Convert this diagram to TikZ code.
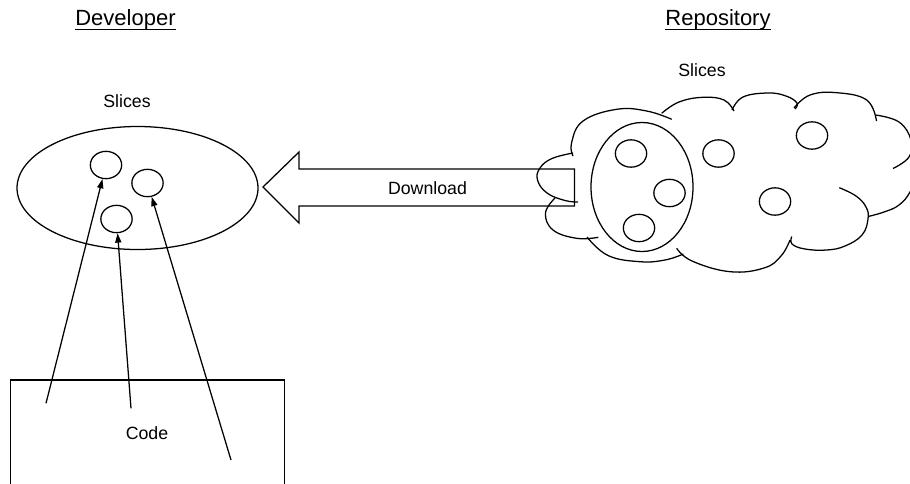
\documentclass[tikz,border=0pt]{standalone}
\usepackage{fontspec}
\setmainfont{Liberation Sans}
\usetikzlibrary{shapes.geometric,arrows.meta}
\tikzset{
  ln/.style={line width=0.95pt, black},
  slice/.style={ln, draw, ellipse, inner sep=0pt, minimum width=23.5pt, minimum height=20.5pt},
  bigell/.style={ln, draw, ellipse, inner sep=0pt},
  lbl/.style={inner sep=0pt, anchor=base, font=\fontsize{13.3}{16}\selectfont},
  head/.style={inner sep=0pt, anchor=base, font=\fontsize{16.5}{20}\selectfont},
  conn/.style={ln, -{Triangle[length=7pt,width=4.6pt]}},
  bump/.style={ln, smooth, tension=0.7}
}
\begin{document}
\begin{tikzpicture}[x=0.75pt, y=-0.75pt]
\useasboundingbox (0,0) rectangle (910,483);

% headings
\node[head] (dev) at (125.5,25) {Developer};
\node[head] (repo) at (718,25) {Repository};
\draw[line width=1pt] ([yshift=-3.4pt]dev.base west) -- ([yshift=-3.4pt]dev.base east);
\draw[line width=1pt] ([yshift=-3.4pt]repo.base west) -- ([yshift=-3.4pt]repo.base east);

% developer side
\node[lbl] (sl1) at (127,107.7) {Slices};
\node[bigell, minimum width=180.75pt, minimum height=92.25pt] (dell) at (137.5,188) {};
\node[slice] (s1) at (106,165) {};
\node[slice] (s2) at (147.5,183) {};
\node[slice] (s3) at (116.5,219) {};

\node[ln, draw, rectangle, inner sep=0pt, minimum width=205.5pt, minimum height=79.5pt] (code) at (147.4,433) {};
\node[lbl] (codet) at (147,439) {Code};

\coordinate (a1) at (46,403.3);
\coordinate (a2) at (131,408.3);
\coordinate (a3) at (231,460);
\draw[conn] (a1) -- (s1);
\draw[conn] (a2) -- (s3);
\draw[conn] (a3) -- (s2);

% download arrow
\draw[ln, line join=miter] (263,187) -- (299,152) -- (299,169) -- (574.5,169) -- (574.5,206) -- (299,206) -- (299,223) -- cycle;
\node[lbl] (dl) at (427.5,194.3) {Download};

% cloud
\draw[bump] plot coordinates {(573,156) (571.5,143) (583,121) (616.7,109.3) (646.7,111) (671.7,119.3)};
\draw[bump] plot coordinates {(661.7,113.3) (679,102) (703,97.3) (724,100) (734,111)};
\draw[bump] plot coordinates {(732,110) (743,97) (768,93) (786,96) (797,103) (795,109)};
\draw[bump] plot coordinates {(794,108) (810,95) (836.7,92.7) (866.7,100) (876.5,121)};
\draw[bump] plot coordinates {(875.5,115) (899,122) (911,140) (909,157) (893,168.5)};
\draw[bump] plot coordinates {(918,172) (910,192) (899,205) (884,212) (868,216.5)};
\draw[bump] plot coordinates {(839.3,187.7) (856,196) (866,207) (868,219) (862,235) (845,246) (826.7,250) (805,249) (792,244) (791.7,236.5)};
\draw[bump] plot coordinates {(676.7,248.3) (692,261) (730,271.7) (764,268) (781,256) (790,240)};
\draw[bump] plot coordinates {(587,237) (608,255.5) (640,261.7) (665,260) (683.3,254)};
\draw[bump] plot coordinates {(555,198) (545.5,213) (553,230) (576.7,238.3) (598.3,237.3)};
\draw[bump] plot coordinates {(573,153) (552,158.5) (540,168) (537.5,180) (547,193) (565,200.5) (578,202)};

\node[lbl] (sl2) at (702,76.7) {Slices};
\node[bigell, minimum width=76.5pt, minimum height=96.75pt] (rell) at (642,187) {};
\node[slice] (r1) at (631,153.5) {};
\node[slice] (r2) at (669.5,193) {};
\node[slice] (r3) at (639,228) {};
\node[slice] (r4) at (718.5,153.5) {};
\node[slice] (r5) at (775,201.5) {};
\node[slice] (r6) at (812,135.5) {};
\end{tikzpicture}
\end{document}
